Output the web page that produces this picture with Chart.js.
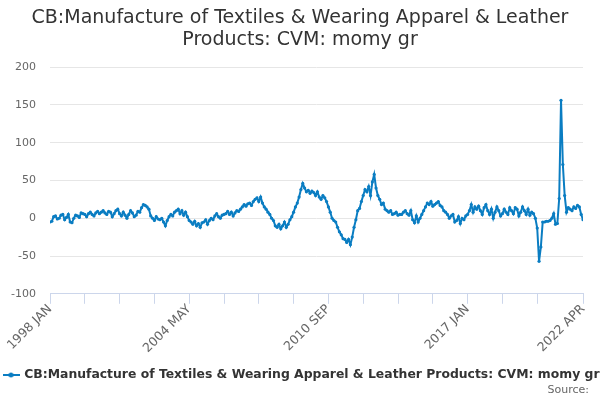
<!DOCTYPE html>
<html>
<head>
<meta charset="utf-8">
<script src="https://cdn.jsdelivr.net/npm/chart.js@4.4.1/dist/chart.umd.min.js"></script>
<style>
    html, body { margin: 0; padding: 0; background: #ffffff; }
    #wrap { width: 600px; height: 400px; }
</style>
</head>
<body>
<div id="wrap"><canvas id="myChart" width="600" height="400"></canvas></div>
<script>
// Série mensal, de 1998 JAN a 2022 APR
const startYear = 1998;
const monthNames = ['JAN', 'FEB', 'MAR', 'APR', 'MAY', 'JUN', 'JUL', 'AUG', 'SEP', 'OCT', 'NOV', 'DEC'];
const momyGr = [
    -5, -4, 2, 3, -1, 0, 4, 5, -2, 1, 5, -5,            // 1998
    -6, 0, 4, 3, 1, 7, 6, 5, 2, 6, 8, 5,                // 1999
    3, 7, 9, 6, 8, 10, 7, 5, 9, 8, 2, 6,                // 2000
    10, 12, 6, 3, 8, 4, 0, 5, 10, 7, 2, 4,              // 2001
    9, 8, 14, 18, 17, 15, 12, 3, 0, -3, 2, -1,          // 2002
    -2, 0, -5, -10, -3, 2, 5, 3, 8, 10, 12, 6,          // 2003
    10, 4, 8, 2, -3, -5, -8, -4, -10, -7, -12, -6,      // 2004
    -5, -2, -8, -3, 0, -2, 3, 6, 2, 0, 4, 5,            // 2005
    6, 9, 5, 8, 3, 7, 10, 9, 12, 15, 18, 16,            // 2006
    19, 20, 17, 22, 25, 27, 22, 28, 20, 15, 12, 8,      // 2007
    5, 0, -3, -10, -12, -8, -14, -10, -5, -12, -8, -2,  // 2008
    2, 8, 15, 20, 28, 38, 46, 40, 35, 37, 33, 36,       // 2009
    34, 30, 35, 28, 25, 30, 27, 22, 15, 8, 0, -3,       // 2010
    -5, -12, -18, -22, -27, -28, -32, -28, -35, -25, -12, -2, // 2011
    10, 13, 22, 30, 38, 35, 42, 30, 48, 58, 40, 30,     // 2012
    25, 18, 20, 12, 10, 8, 10, 5, 6, 8, 4, 5,           // 2013
    5, 8, 10, 6, 4, 10, -2, -6, 3, -5, 0, 5,            // 2014
    10, 15, 20, 18, 22, 16, 18, 20, 22, 17, 15, 10,     // 2015
    8, 5, 0, 3, 5, -5, -3, 2, -7, 0, -2, 3,             // 2016
    5, 10, 18, 8, 15, 12, 16, 10, 5, 14, 18, 10,        // 2017
    5, 12, 0, 8, 15, 10, 3, 6, 12, 8, 5, 14,            // 2018
    10, 6, 14, 12, 3, 8, 15, 10, 5, 12, 4, 8,           // 2019
    6, 0, -13, -57, -38, -5, -5, -4, -4, -3, 0, 6,      // 2020
    -8, -7, 26, 156, 71, 30, 8, 14, 12, 10, 15, 13,     // 2021
    17, 15, 5, -2                                       // 2022
];
const labeledTicks = [0, 76, 152, 228, 291];
const axisTicks = [0, 19, 38, 57, 76, 95, 114, 133, 152, 171, 190, 209, 228, 247, 266, 291];
const yTicks = { min: -100, max: 200, step: 50 };

const seriesName = 'CB:Manufacture of Textiles & Wearing Apparel & Leather Products: CVM: momy gr';
const lineColor = '#0a7dc2';
const textColor = '#333333';
const axisTextColor = '#666666';

function monthLabel(i) {
    return (startYear + Math.floor(i / 12)) + ' ' + monthNames[i % 12];
}

// Símbolo da legenda: linha com ponto no meio
const legendSymbol = document.createElement('canvas');
legendSymbol.width = 17;
legendSymbol.height = 8;
(function () {
    const c = legendSymbol.getContext('2d');
    c.strokeStyle = lineColor;
    c.lineWidth = 2;
    c.beginPath();
    c.moveTo(0, 4);
    c.lineTo(17, 4);
    c.stroke();
    c.fillStyle = lineColor;
    c.beginPath();
    c.arc(8.5, 4, 2.5, 0, Math.PI * 2);
    c.fill();
})();

const points = momyGr.map((v, i) => ({ x: i, y: v }));

const ctx = document.getElementById('myChart').getContext('2d');
new Chart(ctx, {
    type: 'line',
    data: {
        datasets: [{
            label: seriesName,
            data: points,
            borderColor: lineColor,
            backgroundColor: lineColor,
            borderWidth: 2,
            pointRadius: 1.6,
            pointBorderWidth: 0,
            pointBackgroundColor: lineColor,
            tension: 0,
            fill: false
        }]
    },
    options: {
        responsive: false,
        animation: false,
        layout: {
            padding: { left: 0, right: 0, top: 0, bottom: 0 }
        },
        scales: {
            x: {
                type: 'linear',
                min: 0,
                max: momyGr.length - 1,
                afterBuildTicks: function (scale) {
                    scale.ticks = axisTicks.map(v => ({ value: v }));
                },
                afterFit: function (scale) {
                    scale.height = 71;
                },
                ticks: {
                    autoSkip: false,
                    minRotation: 45,
                    maxRotation: 45,
                    padding: -2,
                    color: axisTextColor,
                    font: { family: 'DejaVu Sans', size: 12.5 },
                    callback: function (value) {
                        return labeledTicks.includes(value) ? monthLabel(value) : '';
                    }
                },
                grid: {
                    drawOnChartArea: false,
                    drawTicks: true,
                    tickLength: 10,
                    color: '#ccd6eb'
                },
                border: { display: true, color: '#ccd6eb', width: 1 }
            },
            y: {
                min: yTicks.min,
                max: yTicks.max,
                afterFit: function (scale) {
                    scale.width = 50;
                },
                ticks: {
                    stepSize: yTicks.step,
                    padding: 14,
                    color: axisTextColor,
                    font: { family: 'DejaVu Sans', size: 11 }
                },
                grid: {
                    color: '#e6e6e6',
                    drawTicks: false
                },
                border: { display: false }
            },
            // eixo vazio à direita, só para reservar espaço
            yRight: {
                position: 'right',
                display: true,
                afterFit: function (scale) {
                    scale.width = 17;
                },
                ticks: { display: false },
                grid: { display: false },
                border: { display: false }
            }
        },
        plugins: {
            title: {
                display: true,
                text: ['CB:Manufacture of Textiles & Wearing Apparel & Leather', 'Products: CVM: momy gr'],
                color: textColor,
                font: { family: 'DejaVu Sans', size: 19, weight: 'normal', lineHeight: 1.16 },
                padding: { top: 7, bottom: 16 }
            },
            subtitle: {
                display: true,
                position: 'bottom',
                align: 'end',
                text: 'Source:\u2003',
                color: axisTextColor,
                font: { family: 'DejaVu Sans', size: 11, weight: 'normal' },
                padding: { top: 0, bottom: 3 }
            },
            legend: {
                display: true,
                position: 'bottom',
                align: 'start',
                maxHeight: 19,
                labels: {
                    color: textColor,
                    font: { family: 'DejaVu Sans', size: 12.4, weight: 'bold' },
                    usePointStyle: true,
                    pointStyleWidth: 14,
                    padding: 4,
                    generateLabels: function (chart) {
                        const items = Chart.defaults.plugins.legend.labels.generateLabels(chart);
                        items.forEach(item => { item.pointStyle = legendSymbol; });
                        return items;
                    }
                }
            },
            tooltip: { enabled: false }
        }
    }
});
</script>
</body>
</html>
